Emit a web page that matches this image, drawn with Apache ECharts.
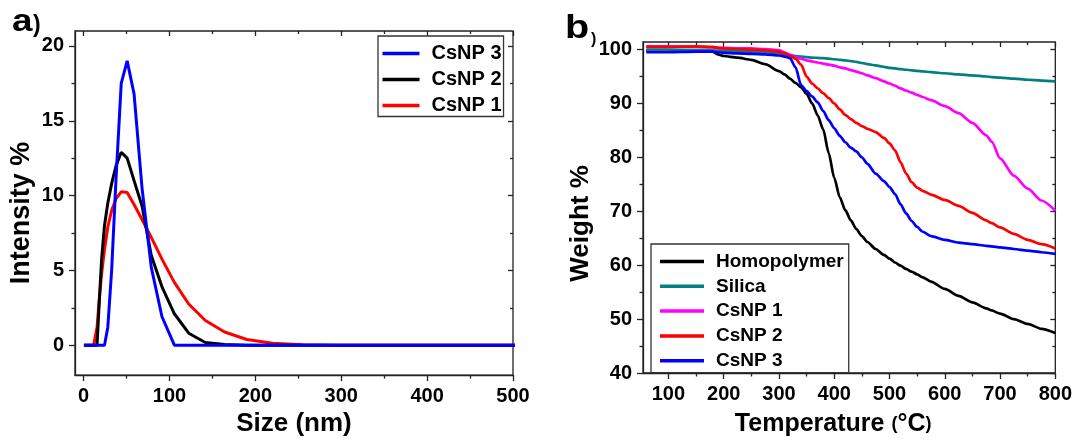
<!DOCTYPE html>
<html>
<head>
<meta charset="utf-8">
<script src="https://cdn.jsdelivr.net/npm/echarts@6.0.0/dist/echarts.min.js"></script>
<style>
  html, body { margin: 0; padding: 0; background: #ffffff; }
  #chart { width: 1075px; height: 442px; }
</style>
</head>
<body>
<div id="chart"></div>
<script>
// ---- panel a : DLS size distribution ----
var sizes = [0.4, 4.849, 8.721, 11.7, 13.54, 15.69, 18.17, 21.04, 24.36, 28.21, 32.67, 37.84, 43.82, 50.75,
  58.77, 68.06, 78.82, 91.28, 105.7, 122.4, 141.8, 164.2, 190.1, 220.2, 255.0, 295.3, 342.0, 396.1, 458.7, 531.2];
var intCsNP1 = [0, 0, 0, 0, 0, 1.2, 3.0, 4.8, 6.4, 7.9, 9.0, 9.8, 10.25, 10.2,
  9.4, 8.4, 7.2, 5.75, 4.2, 2.75, 1.65, 0.88, 0.38, 0.13, 0.03, 0, 0, 0, 0, 0];
var intCsNP2 = [0, 0, 0, 0, 0, 0, 2.8, 5.8, 8.0, 9.5, 10.8, 12.0, 12.9, 12.5,
  11.0, 9.3, 6.0, 3.9, 2.1, 0.8, 0.18, 0.04, 0, 0, 0, 0, 0, 0, 0, 0];
var intCsNP3 = [0, 0, 0, 0, 0, 0, 0, 0, 0, 1.2, 5.0, 11.2, 17.5, 19.0,
  16.8, 10.5, 5.2, 1.9, 0, 0, 0, 0, 0, 0, 0, 0, 0, 0, 0, 0];
var sizeTicks = [0, 100, 200, 300, 400, 500];
var sizeMinor = [50, 150, 250, 350, 450];
var intTicks = [0, 5, 10, 15, 20];
var intMinor = [2.5, 7.5, 12.5, 17.5];

// ---- panel b : TGA ----
var temps = [60, 100, 150, 180, 190, 200, 225, 250, 275, 300, 310, 320, 330, 340, 350, 360, 370, 380, 390, 400,
  410, 420, 430, 440, 450, 460, 475, 490, 500, 510, 520, 530, 540, 550, 560, 575, 600, 625, 650, 675, 685,
  700, 725, 750, 775, 800];
var wHomo = [99.8, 99.8, 99.8, 99.6, 99.1, 98.8, 98.5, 98.1, 97.3, 96.0, 95.4, 94.6, 93.8, 93.0, 91.8, 90.0, 87.8, 85.2, 80.8, 76.2,
  72.6, 70.2, 68.3, 66.7, 65.4, 64.3, 63.0, 61.9, 61.2, 60.5, 59.9, 59.3, 58.8, 58.3, 57.75, 56.95, 55.6, 54.3, 53.1, 52.0, 51.6,
  51.0, 50.0, 49.1, 48.2, 47.4];
var wSilica = [100.0, 100.0, 99.9, 99.85, 99.8, 99.8, 99.7, 99.6, 99.5, 99.3, 99.1, 98.95, 98.8, 98.7, 98.6, 98.5, 98.45, 98.4, 98.3, 98.2,
  98.1, 98.0, 97.85, 97.7, 97.5, 97.3, 97.05, 96.8, 96.6, 96.5, 96.35, 96.25, 96.15, 96.05, 95.95, 95.8, 95.6, 95.4, 95.2, 95.0, 94.9,
  94.8, 94.6, 94.4, 94.25, 94.1];
var wCsNP1 = [100.6, 100.6, 100.5, 100.4, 100.3, 100.3, 100.2, 100.2, 100.1, 99.9, 99.5, 99.0, 98.6, 98.3, 98.0, 97.8, 97.6, 97.4, 97.2, 97.0,
  96.7, 96.5, 96.2, 95.9, 95.6, 95.2, 94.7, 94.1, 93.7, 93.3, 92.8, 92.4, 92.0, 91.6, 91.2, 90.6, 89.5, 88.2, 86.4, 84.1, 82.9,
  79.8, 76.6, 74.2, 72.0, 70.1];
var wCsNP2 = [100.5, 100.5, 100.6, 100.5, 100.3, 100.2, 100.1, 100.0, 99.9, 99.6, 99.3, 98.9, 98.3, 97.2, 95.0, 93.7, 92.8, 91.9, 91.0, 90.0,
  88.9, 87.9, 87.1, 86.4, 85.8, 85.3, 84.7, 83.6, 82.6, 81.3, 79.1, 77.0, 75.4, 74.4, 73.8, 73.1, 72.1, 71.0, 69.7, 68.3, 67.8,
  67.0, 65.8, 64.7, 63.9, 63.1];
var wCsNP3 = [99.5, 99.5, 99.6, 99.6, 99.5, 99.4, 99.3, 99.2, 99.1, 98.9, 98.7, 98.4, 96.7, 93.4, 92.3, 91.3, 90.2, 88.6, 86.9, 85.4,
  84.0, 82.8, 81.8, 81.1, 80.0, 78.8, 77.0, 75.6, 74.5, 73.2, 71.3, 69.6, 68.2, 67.1, 66.2, 65.4, 64.7, 64.2, 63.9, 63.6, 63.5,
  63.3, 63.0, 62.7, 62.4, 62.1];
var tempTicks = [100, 200, 300, 400, 500, 600, 700, 800];
var tempMinor = [150, 250, 350, 450, 550, 650, 750];
var weightTicks = [40, 50, 60, 70, 80, 90, 100];
var weightMinor = [45, 55, 65, 75, 85, 95];

function pairs(xs, ys) {
  return xs.map(function (x, i) { return [x, ys[i]]; });
}

var FONT = 'Liberation Sans, Arial, sans-serif';
var lineCol = '#222';

function mainAxis(grid, min, max, pos, ticks, name, nameGap, namePad, nameSize) {
  return {
    type: 'value', gridIndex: grid, min: min, max: max, position: pos,
    axisLine: { show: true, onZero: false, lineStyle: { color: lineCol, width: 1.3 } },
    axisTick: { show: true, customValues: ticks, length: 6, lineStyle: { color: lineCol, width: 1.3 } },
    axisLabel: { customValues: ticks, margin: 11, color: '#000',
      fontFamily: FONT, fontWeight: 'bold', fontSize: 20 },
    splitLine: { show: false },
    name: name, nameLocation: 'middle', nameGap: nameGap,
    nameTextStyle: { color: '#000', fontFamily: FONT, fontWeight: 'bold', fontSize: nameSize || 26, padding: namePad }
  };
}
// tick-only axis (minor ticks, and the mirrored ticks on top / right)
function tickAxis(grid, min, max, pos, ticks, len, inside) {
  return {
    type: 'value', gridIndex: grid, min: min, max: max, position: pos,
    axisLine: { show: false, onZero: false },
    axisTick: { show: true, customValues: ticks, length: len, inside: !!inside, lineStyle: { color: lineCol, width: 1.3 } },
    axisLabel: { show: false },
    splitLine: { show: false }
  };
}

var chart = echarts.init(document.getElementById('chart'), null, { renderer: 'canvas' });

var legendText = { color: '#000', fontFamily: FONT, fontWeight: 'bold' };

var tempAxis = mainAxis(1, 54, 800, 'bottom', tempTicks, '{t|Temperature }{p|(}{t|°C}{p|)}', 39, [0, 32, 0, 0]);
tempAxis.nameTextStyle.rich = {
  t: { fontFamily: FONT, fontWeight: 'bold', fontSize: 25, color: '#000' },
  p: { fontFamily: FONT, fontWeight: 'bold', fontSize: 18, color: '#000' }
};

chart.setOption({
  animation: false,
  backgroundColor: '#ffffff',
  grid: [
    { left: 75, top: 31, width: 438, height: 347, show: true, borderColor: lineCol, borderWidth: 1.3 },
    { left: 643, top: 42, width: 415, height: 334, show: true, borderColor: lineCol, borderWidth: 1.3 }
  ],
  xAxis: [
    mainAxis(0, -10, 500, 'bottom', sizeTicks, 'Size (nm)', 29, [0, 0, 0, 0]),
    tickAxis(0, -10, 500, 'bottom', sizeMinor, 3.5),
    tempAxis,
    tickAxis(1, 54, 800, 'bottom', tempMinor, 3.5),
    tickAxis(0, -10, 500, 'top', sizeTicks, 5, true),
    tickAxis(0, -10, 500, 'top', sizeMinor, 3, true),
    tickAxis(1, 54, 800, 'top', tempTicks, 5, true),
    tickAxis(1, 54, 800, 'top', tempMinor, 3, true)
  ],
  yAxis: [
    mainAxis(0, -2, 21, 'left', intTicks, 'Intensity %', 40, [0, 20, 0, 0], 27),
    tickAxis(0, -2, 21, 'left', intMinor, 3.5),
    mainAxis(1, 40, 101.4, 'left', weightTicks, 'Weight %', 49, [0, 32, 0, 0]),
    tickAxis(1, 40, 101.4, 'left', weightMinor, 3.5),
    tickAxis(0, -2, 21, 'right', intTicks, 5, true),
    tickAxis(0, -2, 21, 'right', intMinor, 3, true),
    tickAxis(1, 40, 101.4, 'right', weightTicks, 5, true),
    tickAxis(1, 40, 101.4, 'right', weightMinor, 3, true)
  ],
  legend: [
    {
      orient: 'vertical', left: 378, top: 36, padding: [7.5, 2, 1, 4.5],
      itemWidth: 37, itemHeight: 3.5, itemGap: 6, icon: 'rect', selectedMode: false,
      borderColor: '#333', borderWidth: 1.3, backgroundColor: '#fff',
      data: ['a:CsNP 3', 'a:CsNP 2', 'a:CsNP 1'],
      formatter: function (n) { return n.split(':')[1]; },
      textStyle: Object.assign({ fontSize: 20, lineHeight: 20, padding: [0, 0, 0, 7] }, legendText)
    },
    {
      orient: 'vertical', left: 651, top: 244, padding: [8, 5, 2.5, 9],
      itemWidth: 44, itemHeight: 3.5, itemGap: 5.8, icon: 'rect', selectedMode: false,
      borderColor: '#333', borderWidth: 1.3, backgroundColor: '#fff',
      data: ['b:Homopolymer', 'b:Silica', 'b:CsNP 1', 'b:CsNP 2', 'b:CsNP 3'],
      formatter: function (n) { return n.split(':')[1]; },
      textStyle: Object.assign({ fontSize: 19, lineHeight: 19, padding: [0, 0, 0, 7] }, legendText)
    }
  ],
  // panel letters
  graphic: [
    { type: 'text', x: 12, y: 6, scaleX: 1.15, style: { text: 'a', font: 'bold 32px ' + FONT, fill: '#000' } },
    { type: 'text', x: 33, y: 14, style: { text: ')', font: 'bold 23px ' + FONT, fill: '#000' } },
    { type: 'text', x: 565, y: 12, scaleX: 1.2, style: { text: 'b', font: 'bold 33px ' + FONT, fill: '#000' } },
    { type: 'text', x: 591, y: 32, style: { text: ')', font: 'bold 16px ' + FONT, fill: '#000' } }
  ],
  series: [
    { name: 'a:CsNP 1', type: 'line', xAxisIndex: 0, yAxisIndex: 0, data: pairs(sizes, intCsNP1), showSymbol: false,
      color: '#ff0000', lineStyle: { width: 3, color: '#ff0000' }, z: 2 },
    { name: 'a:CsNP 2', type: 'line', xAxisIndex: 0, yAxisIndex: 0, data: pairs(sizes, intCsNP2), showSymbol: false,
      color: '#000000', lineStyle: { width: 3, color: '#000000' }, z: 3 },
    { name: 'a:CsNP 3', type: 'line', xAxisIndex: 0, yAxisIndex: 0, data: pairs(sizes, intCsNP3), showSymbol: false,
      color: '#0000ff', lineStyle: { width: 3, color: '#0000ff' }, z: 4 },

    { name: 'b:Homopolymer', type: 'line', xAxisIndex: 2, yAxisIndex: 2, data: pairs(temps, wHomo), showSymbol: false,
      smooth: 0.25, smoothMonotone: 'x', color: '#000000', lineStyle: { width: 2.7, color: '#000000' } },
    { name: 'b:Silica', type: 'line', xAxisIndex: 2, yAxisIndex: 2, data: pairs(temps, wSilica), showSymbol: false,
      smooth: 0.25, smoothMonotone: 'x', color: '#008080', lineStyle: { width: 2.7, color: '#008080' } },
    { name: 'b:CsNP 1', type: 'line', xAxisIndex: 2, yAxisIndex: 2, data: pairs(temps, wCsNP1), showSymbol: false,
      smooth: 0.25, smoothMonotone: 'x', color: '#ff00ff', lineStyle: { width: 2.7, color: '#ff00ff' } },
    { name: 'b:CsNP 2', type: 'line', xAxisIndex: 2, yAxisIndex: 2, data: pairs(temps, wCsNP2), showSymbol: false,
      smooth: 0.25, smoothMonotone: 'x', color: '#ff0000', lineStyle: { width: 2.7, color: '#ff0000' } },
    { name: 'b:CsNP 3', type: 'line', xAxisIndex: 2, yAxisIndex: 2, data: pairs(temps, wCsNP3), showSymbol: false,
      smooth: 0.25, smoothMonotone: 'x', color: '#0000ff', lineStyle: { width: 2.7, color: '#0000ff' } }
  ]
});
</script>
</body>
</html>
